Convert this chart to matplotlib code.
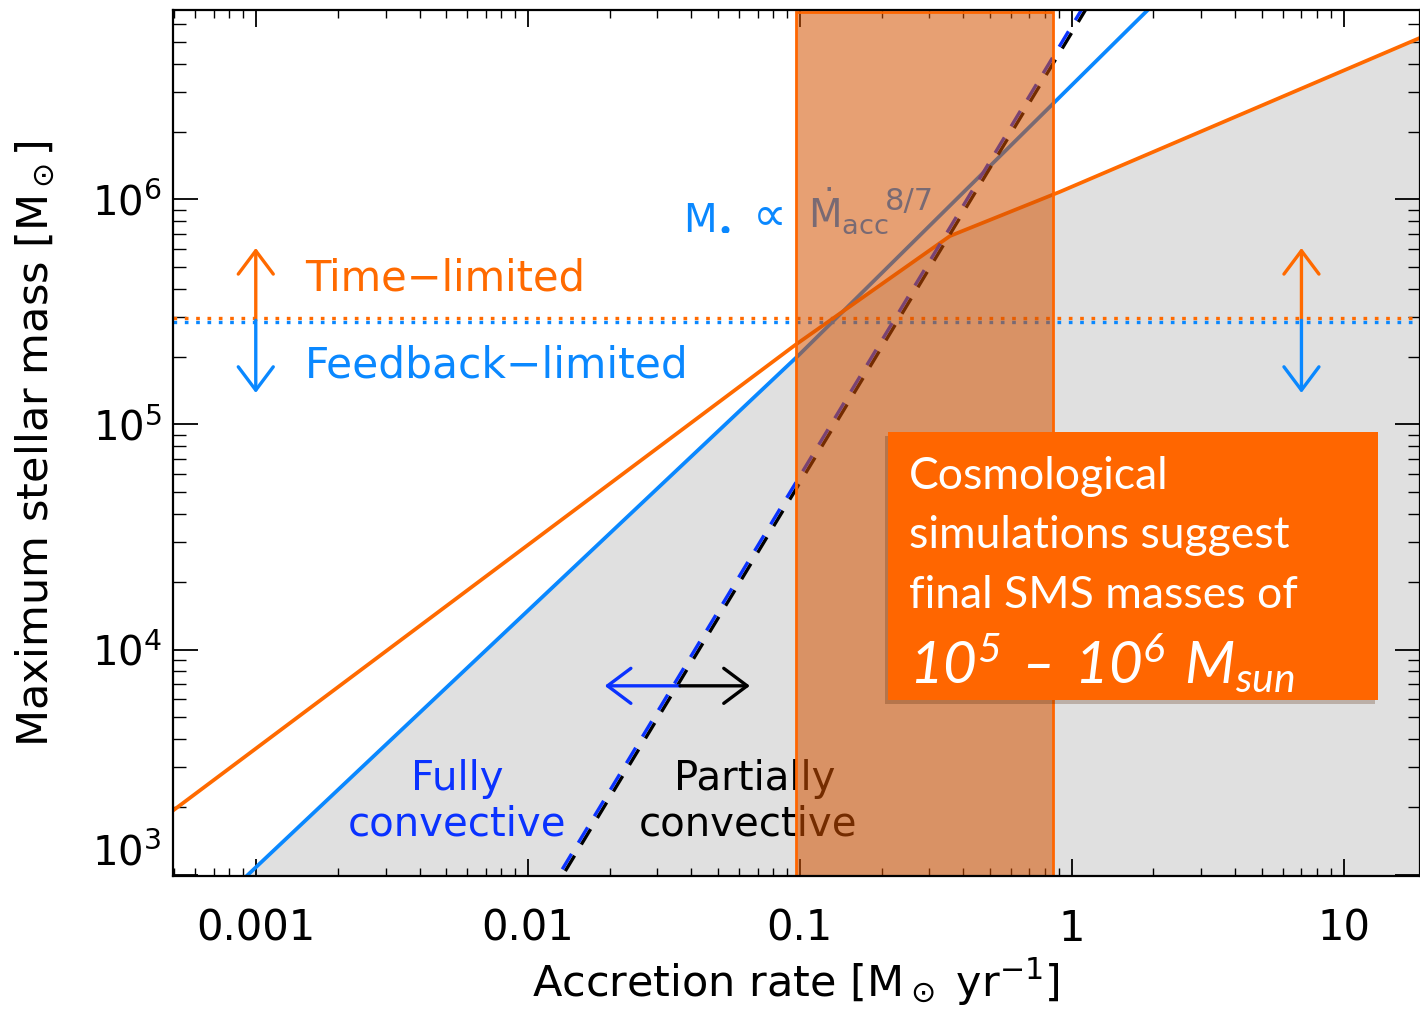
import numpy as np
import matplotlib
matplotlib.use('Agg')
import matplotlib.pyplot as plt
import matplotlib.ticker as mticker
import matplotlib.patheffects as pe
from matplotlib.patches import Rectangle, Polygon
from matplotlib.transforms import offset_copy

#fonts
plt.rcParams['font.family'] = 'DejaVu Sans'
plt.rcParams['mathtext.fontset'] = 'custom'
plt.rcParams['mathtext.rm'] = 'DejaVu Sans'
plt.rcParams['mathtext.it'] = 'DejaVu Sans:italic'
plt.rcParams['mathtext.sf'] = 'Lato:italic'

#feedback-limited line (fully convective), M ~ Mdot^(8/7)
fb_rate = [5e-4, 0.1, 20.0]
fb_mass = [489, 2.05e5, 1.15e8]

#time-limited line
tl_rate = [4.8e-4, 0.0961, 0.357, 0.906, 19.5]
tl_mass = [1.87e3, 2.25e5, 6.87e5, 1.08e6, 5.27e6]

#boundary fully / partially convective, M ~ Mdot^2
cb_rate = [0.012, 1.2]
cb_mass = [791, 7.9e6]

#mass where time-limited and feedback-limited meet
M_SPLIT = 2.9e5

#rates of the cosmological band
BAND = [0.097, 0.853]

x_ticks = [0.001, 0.01, 0.1, 1, 10]
x_labels = ['0.001', '0.01', '0.1', '1', '10']
y_ticks = [1e3, 1e4, 1e5, 1e6]

ORANGE = '#ff6a00'
LBLUE = '#0a88ff'
DBLUE = '#0a32ff'

fig = plt.figure(figsize=(14.2, 10.15), dpi=100)
ax = fig.add_axes([0.1218, 0.1369, 0.8782, 0.8532])
ax.set_xscale('log')
ax.set_yscale('log')
ax.set_xlim(4.96e-4, 19.1)
ax.set_ylim(986, 6.93e6)

#grey area below both limits
below_fb = Polygon(list(zip(fb_rate, fb_mass)) + [(fb_rate[-1], 1), (fb_rate[0], 1)],
                   closed=True, transform=ax.transData)
grey = ax.fill_between(tl_rate, tl_mass, 1, color='#e0e0e0', lw=0, zorder=0.5)
grey.set_clip_path(below_fb)

#lines
ax.plot(fb_rate, fb_mass, color=LBLUE, lw=2.7, zorder=2)
ax.plot(tl_rate, tl_mass, color=ORANGE, lw=2.7, zorder=2)
ax.plot(cb_rate, cb_mass, color='black', lw=2.4, ls=(0, (5.4, 3.9)), zorder=2)
ax.plot(cb_rate, cb_mass, color=DBLUE, lw=2.4, ls=(0, (5.4, 3.9)), zorder=2.1,
        transform=offset_copy(ax.transData, fig=fig, x=-3.0, y=1.8, units='dots'))

#dotted split line, orange on top, blue below
xl = ax.get_xlim()
ax.plot(xl, [M_SPLIT, M_SPLIT], color=ORANGE, lw=2.4, ls=(0, (1.1, 2.3)), zorder=2,
        transform=offset_copy(ax.transData, fig=fig, y=2.0, units='dots'))
ax.plot(xl, [M_SPLIT, M_SPLIT], color=LBLUE, lw=2.4, ls=(0, (1.1, 2.3)), zorder=2,
        transform=offset_copy(ax.transData, fig=fig, y=-2.0, units='dots'))


def arrow(x0, y0, x1, y1, color):
    ax.annotate('', xy=(x1, y1), xytext=(x0, y0), zorder=3,
                arrowprops=dict(arrowstyle='->,head_length=0.6,head_width=0.45',
                                color=color, lw=2.4, shrinkA=0, shrinkB=0,
                                mutation_scale=28))


for xa in [0.001, 7.0]:
    arrow(xa, M_SPLIT, xa, 6.08e5, ORANGE)
    arrow(xa, M_SPLIT, xa, 1.38e5, LBLUE)
arrow(0.0363, 6.9e3, 0.0192, 6.9e3, DBLUE)
arrow(0.0363, 6.9e3, 0.0656, 6.9e3, 'black')

#texts
ax.text(1.52e-3, 3.95e5, 'Time\u2212limited', color=ORANGE, fontsize=30, zorder=3)
ax.text(1.52e-3, 1.61e5, 'Feedback\u2212limited', color=LBLUE, fontsize=30.5, zorder=3)
ax.text(0.0372, 7.45e5, r'$\mathrm{M}_{\bullet}$', color=LBLUE, fontsize=28, zorder=3)
ax.text(0.062, 7.45e5, r'$\propto$', color=LBLUE, fontsize=34, zorder=3)
ax.text(0.1073, 7.45e5, r'$\dot{\mathrm{M}}_{\mathrm{acc}}$', color=LBLUE, fontsize=28, zorder=3)
ax.text(0.206, 8.96e5, '8/7', color=LBLUE, fontsize=22, zorder=3)
ax.text(0.0055, 2370, 'Fully', color=DBLUE, fontsize=29, ha='center', zorder=3)
ax.text(0.0055, 1495, 'convective', color=DBLUE, fontsize=29, ha='center', zorder=3)
ax.text(0.0686, 2370, 'Partially', color='black', fontsize=29, ha='center', zorder=3)
ax.text(0.0645, 1495, 'convective', color='black', fontsize=29, ha='center', zorder=3)

#cosmological band
ax.axvspan(BAND[0], BAND[1], ymin=0, ymax=0.9977, facecolor=(0.835, 0.322, 0.0, 0.55),
           edgecolor='#ff6600', lw=2, zorder=4)

#text box
box = Rectangle((0.5734, 0.2032), 0.3929, 0.3095, transform=ax.transAxes,
                facecolor='#ff6600', edgecolor='none', zorder=6,
                path_effects=[pe.SimplePatchShadow(offset=(-2, -3), alpha=0.25), pe.Normal()])
ax.add_patch(box)
for yy, line in zip([0.4469, 0.3792, 0.3095],
                    ['Cosmological', 'simulations suggest', 'final SMS masses of']):
    ax.text(0.5902, yy, line, transform=ax.transAxes, color='white', fontsize=32,
            family='Lato', zorder=7)
ax.text(0.5902, 0.2217, '$\\mathsf{10^{5}\\ \u2013\\ 10^{6}\\ M_{sun}}$', transform=ax.transAxes,
        color='white', fontsize=42, zorder=7)

#axes and ticks
ax.set_xticks(x_ticks, x_labels)
ax.set_yticks(y_ticks, ['', r'$\mathdefault{10^{4}}$', r'$\mathdefault{10^{5}}$',
                        r'$\mathdefault{10^{6}}$'])
ax.annotate(r'$\mathdefault{10^{3}}$', xy=(0, 1e3), xycoords=('axes fraction', 'data'),
            xytext=(-8, 0), textcoords='offset points', ha='right', va='bottom', fontsize=29)
ax.xaxis.set_minor_formatter(mticker.NullFormatter())
ax.yaxis.set_minor_formatter(mticker.NullFormatter())
ax.tick_params(which='both', direction='in', top=True, right=True, color='black')
ax.tick_params(axis='x', which='major', length=12, width=1.3, pad=23, labelsize=30)
ax.tick_params(axis='x', which='minor', length=6, width=1.0)
ax.tick_params(axis='y', which='major', length=18, width=1.3, pad=8, labelsize=29)
ax.tick_params(axis='y', which='minor', length=9, width=1.0)
for s in ax.spines.values():
    s.set_linewidth(1.6)
    s.set_zorder(8)

ax.set_xlabel(r'Accretion rate [M$_\odot$ yr$^{-1}$]', fontsize=31, va='center')
ax.xaxis.set_label_coords(0.5, -0.1224)
ax.set_ylabel(r'Maximum stellar mass [M$_\odot$]', fontsize=31, va='center')
ax.yaxis.set_label_coords(-0.1107, 0.5)

fig.savefig('out.png', dpi=100)
